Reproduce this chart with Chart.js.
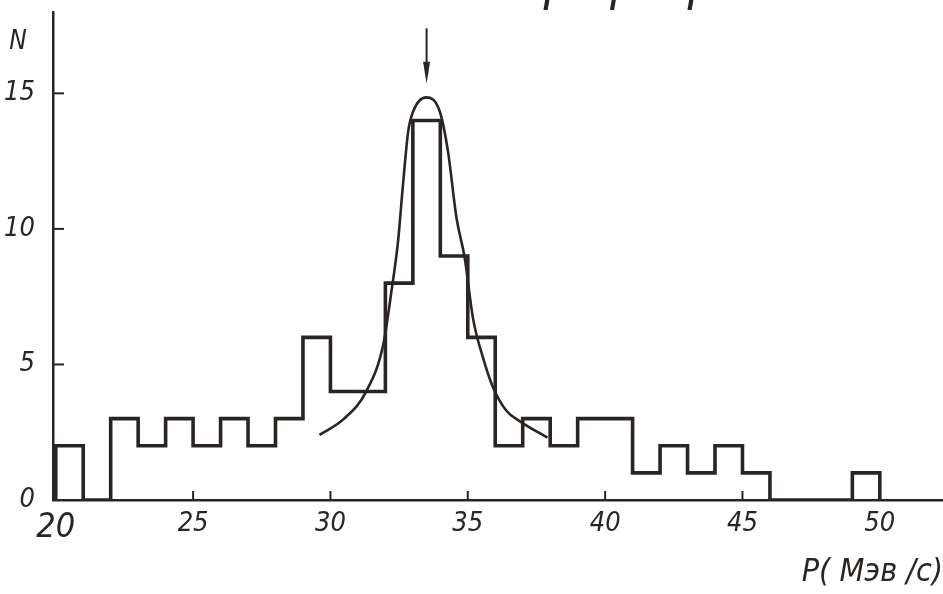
<!doctype html>
<html lang="ru">
<head>
<meta charset="utf-8">
<title>P (Мэв/c)</title>
<script src="https://cdn.jsdelivr.net/npm/chart.js@4.4.1/dist/chart.umd.min.js"></script>
<style>
    html, body { margin: 0; padding: 0; background: #fff; }
</style>
</head>
<body>
<canvas id="chart" width="943" height="594"></canvas>

<script>
    // histogram: 1 MeV/c bins starting at 20
    const binStart = 20;
    const binWidth = 1;
    const counts = [2, 0, 3, 2, 3, 2, 3, 2, 3, 6, 4, 4, 8, 14, 9, 6, 2, 3, 2, 3, 3, 1, 2, 1, 2, 1, 0, 0, 0, 1];

    // fitted curve
    const fitP = [29.6, 30.5, 31.3, 31.92, 32.22, 32.46, 32.64, 32.83, 33.01, 33.49, 33.98, 34.28, 34.59, 34.89, 35.19, 35.56, 35.9, 36.4, 36.9, 37.9];
    const fitN = [2.4, 3.0, 4.0, 5.72, 7.69, 9.53, 11.62, 13.59, 14.33, 14.85, 14.33, 12.85, 10.4, 8.92, 6.7, 5.23, 4.2, 3.3, 2.9, 2.3];

    const xTicks = [20, 25, 30, 35, 40, 45, 50];
    const yTicks = [0, 5, 10, 15];

    // arrow marking the peak
    const arrowP = 33.5;
    const arrowFrom = 17.4;
    const arrowTo = 15.35;

    const yLabel = 'N';
    const xLabel = 'P( Мэв /c)';
    const headerGlyphs = ['μ', 'p', 'μ'];

    const ink = '#2a2522';
    const fontFamily = '"Liberation Sans Narrow", "DejaVu Sans Condensed", "DejaVu Sans", sans-serif';

    let histPoints = [{x: binStart, y: 0}];
    counts.forEach(function (n, i) {
        histPoints.push({x: binStart + i * binWidth, y: n});
    });
    histPoints.push({x: binStart + counts.length * binWidth, y: 0});

    let fitPoints = fitP.map(function (p, i) {
        return {x: p, y: fitN[i]};
    });

    const extras = {
        id: 'extras',
        afterDraw(chart) {
            const ctx = chart.ctx;
            const xs = chart.scales.x;
            const ys = chart.scales.y;
            const area = chart.chartArea;
            ctx.save();
            ctx.strokeStyle = ink;
            ctx.fillStyle = ink;

            // inward tick marks
            ctx.lineWidth = 2;
            yTicks.forEach(function (v) {
                if (v === 0) return;
                const y = ys.getPixelForValue(v);
                ctx.beginPath();
                ctx.moveTo(area.left, y);
                ctx.lineTo(area.left + 11, y);
                ctx.stroke();
            });
            xTicks.forEach(function (v) {
                if (v === binStart) return;
                const x = xs.getPixelForValue(v);
                ctx.beginPath();
                ctx.moveTo(x, area.bottom);
                ctx.lineTo(x, area.bottom - 9);
                ctx.stroke();
            });

            // arrow
            const ax = xs.getPixelForValue(arrowP);
            const a0 = ys.getPixelForValue(arrowFrom);
            const a1 = ys.getPixelForValue(arrowTo);
            ctx.lineWidth = 2;
            ctx.beginPath();
            ctx.moveTo(ax, a0);
            ctx.lineTo(ax, a1 - 18);
            ctx.stroke();
            ctx.beginPath();
            ctx.moveTo(ax - 3.5, a1 - 22);
            ctx.lineTo(ax + 3.5, a1 - 22);
            ctx.lineTo(ax, a1);
            ctx.closePath();
            ctx.fill();

            // axis name
            ctx.font = 'italic 26px ' + fontFamily;
            ctx.textAlign = 'center';
            ctx.textBaseline = 'middle';
            ctx.fillText(yLabel, 18, ys.getPixelForValue(16.9));

            // cut-off header text at the very top
            ctx.font = 'italic 52px ' + fontFamily;
            ctx.textAlign = 'left';
            ctx.textBaseline = 'alphabetic';
            [544, 610, 688].forEach(function (x, i) {
                ctx.fillText(headerGlyphs[i], x, -1);
            });
            ctx.restore();
        }
    };

    new Chart(document.getElementById('chart'), {
        type: 'scatter',
        data: {
            datasets: [
                {
                    data: histPoints,
                    showLine: true,
                    stepped: true,
                    borderColor: ink,
                    borderWidth: 3.6,
                    borderJoinStyle: 'miter',
                    pointRadius: 0,
                    fill: false,
                },
                {
                    data: fitPoints,
                    showLine: true,
                    cubicInterpolationMode: 'monotone',
                    borderColor: ink,
                    borderWidth: 2.6,
                    pointRadius: 0,
                    fill: false,
                },
            ],
        },
        options: {
            responsive: false,
            devicePixelRatio: 1,
            animation: false,
            layout: {
                padding: {top: 12, right: 0, bottom: 0, left: 0},
            },
            plugins: {
                legend: {display: false},
                tooltip: {enabled: false},
            },
            scales: {
                x: {
                    type: 'linear',
                    min: 19.9,
                    max: 52.3,
                    afterBuildTicks: function (scale) {
                        scale.ticks = xTicks.map(function (v) { return {value: v}; });
                    },
                    afterFit: function (scale) {
                        scale.height = 94;
                        scale.paddingLeft = 0;
                        scale.paddingRight = 0;
                    },
                    grid: {display: false, drawTicks: false},
                    border: {display: true, color: ink, width: 2.5},
                    ticks: {
                        color: ink,
                        padding: 8,
                        font: function (c) {
                            const big = c.tick && c.tick.value === binStart;
                            return {family: fontFamily, size: big ? 34 : 27, style: 'italic'};
                        },
                    },
                    title: {
                        display: true,
                        text: xLabel,
                        align: 'end',
                        color: ink,
                        font: {family: fontFamily, size: 32, style: 'italic'},
                        padding: {top: 0, bottom: 2},
                    },
                },
                y: {
                    type: 'linear',
                    min: 0,
                    max: 18,
                    afterBuildTicks: function (scale) {
                        scale.ticks = yTicks.map(function (v) { return {value: v}; });
                    },
                    afterFit: function (scale) {
                        scale.width = 53;
                        scale.paddingTop = 0;
                        scale.paddingBottom = 0;
                    },
                    grid: {display: false, drawTicks: false},
                    border: {display: true, color: ink, width: 2.5},
                    ticks: {
                        color: ink,
                        padding: 18,
                        font: {family: fontFamily, size: 27, style: 'italic'},
                    },
                },
            },
        },
        plugins: [extras],
    });
</script>
</body>
</html>
